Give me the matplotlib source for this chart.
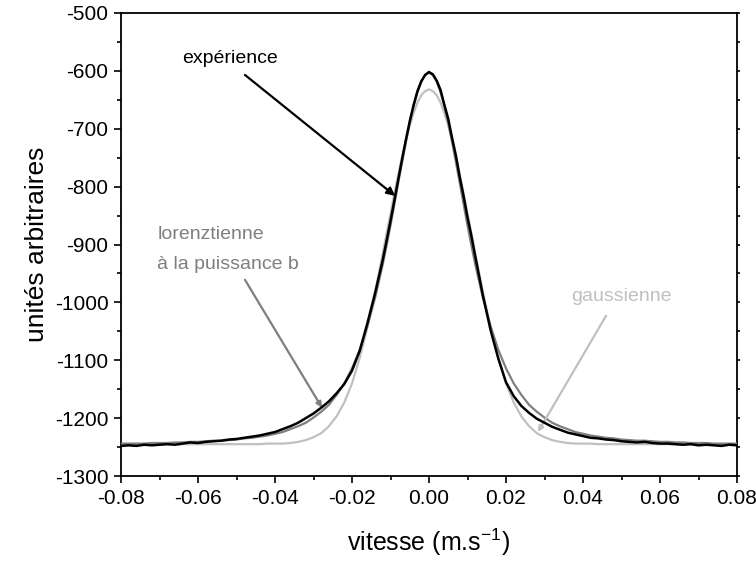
import numpy as np
import matplotlib
matplotlib.use("Agg")
import matplotlib.pyplot as plt
from matplotlib.ticker import MultipleLocator

plt.rcParams['font.family'] = ['Liberation Sans', 'DejaVu Sans']
plt.rcParams['mathtext.default'] = 'regular'
plt.rcParams['axes.unicode_minus'] = False

# velocity grid (m/s): step 0.002 in the wings, 0.001 around the peak
vitesse = np.concatenate([
    np.linspace(-0.080, -0.012, 35),
    np.linspace(-0.011, 0.011, 23),
    np.linspace(0.012, 0.080, 35),
])

# measured profile (black, noisy)
experience = [
    -1248, -1247, -1248, -1246, -1247, -1246, -1245, -1246, -1244, -1242,
    -1243, -1241, -1240, -1239, -1237, -1236, -1234, -1232, -1230, -1227,
    -1224, -1219, -1214, -1208, -1200, -1192, -1182, -1171, -1157, -1141,
    -1118, -1084, -1036, -984, -926,
    -893, -859, -824, -788, -753, -719, -687, -659, -635, -618, -607,
    -602,
    -606, -617, -633, -659, -683, -716, -747, -784, -817, -853, -885,
    -920, -988, -1048, -1097, -1138,
    -1162, -1179, -1191, -1201, -1208, -1215, -1220, -1225, -1228, -1231,
    -1234, -1235, -1237, -1238, -1240, -1241, -1242, -1241, -1243, -1244,
    -1244, -1245, -1246, -1245, -1247, -1246, -1247, -1248, -1246, -1247,
]

# fit: lorentzian to the power b (dark gray)
lorentz_b = [
    -1244, -1244, -1244, -1244, -1243, -1243, -1243, -1242, -1242, -1241,
    -1241, -1240, -1239, -1239, -1238, -1237, -1235, -1234, -1232, -1230,
    -1227, -1224, -1219, -1214, -1208, -1199, -1189, -1177, -1160, -1140,
    -1114, -1082, -1041, -992, -934,
    -901, -867, -831, -794, -758, -723, -690, -661, -637, -618, -607,
    -603,
    -607, -618, -637, -661, -690, -723, -758, -794, -831, -867, -901,
    -934, -992, -1041, -1082, -1114,
    -1140, -1160, -1177, -1189, -1199, -1208, -1214, -1219, -1224, -1227,
    -1230, -1232, -1234, -1235, -1237, -1238, -1239, -1239, -1240, -1241,
    -1241, -1242, -1242, -1243, -1243, -1243, -1244, -1244, -1244, -1244,
]

# fit: gaussian (light gray)
gaussienne = [
    -1245, -1245, -1245, -1245, -1245, -1245, -1245, -1245, -1245, -1245,
    -1245, -1245, -1245, -1245, -1245, -1245, -1245, -1245, -1245, -1244,
    -1244, -1244, -1243, -1241, -1238, -1233, -1226, -1214, -1197, -1173,
    -1140, -1096, -1043, -982, -915,
    -880, -847, -812, -780, -748, -720, -694, -673, -655, -642, -635,
    -632,
    -635, -642, -655, -673, -694, -720, -748, -780, -812, -847, -880,
    -915, -982, -1043, -1096, -1140,
    -1173, -1197, -1214, -1226, -1233, -1238, -1241, -1243, -1244, -1244,
    -1244, -1245, -1245, -1245, -1245, -1245, -1245, -1245, -1245, -1245,
    -1245, -1245, -1245, -1245, -1245, -1245, -1245, -1245, -1245, -1245,
]

BLACK = "#000000"
DARK_GRAY = "#7f7f7f"
LIGHT_GRAY = "#c0c0c0"

fig = plt.figure(figsize=(7.56, 5.64), dpi=100)
ax = fig.add_axes([121 / 756, 1 - 476 / 564, 616 / 756, 463 / 564])

ax.plot(vitesse, gaussienne, color=LIGHT_GRAY, lw=1.6, zorder=2)
ax.plot(vitesse, lorentz_b, color=DARK_GRAY, lw=1.6, zorder=3)
ax.plot(vitesse, experience, color=BLACK, lw=1.8, zorder=4)

ax.set_xlim(-0.08, 0.08)
ax.set_ylim(-1300, -500)
ax.xaxis.set_major_locator(MultipleLocator(0.02))
ax.xaxis.set_minor_locator(MultipleLocator(0.01))
ax.yaxis.set_major_locator(MultipleLocator(100))
ax.yaxis.set_minor_locator(MultipleLocator(50))
ax.xaxis.set_major_formatter(
    plt.FuncFormatter(lambda v, p: f"{v:.2f}".replace("-0.00", "0.00")))

ax.tick_params(which="major", direction="out", length=5, width=1.2,
               labelsize=15, pad=4)
ax.tick_params(which="minor", direction="out", length=3, width=1.2)
ax.tick_params(axis="y", which="both", right=True)
for t in ax.yaxis.get_ticklines(minor=False)[1::2]:
    t.set_markersize(2)
for t in ax.yaxis.get_ticklines(minor=True)[1::2]:
    t.set_markersize(2)
for spine in ax.spines.values():
    spine.set_linewidth(1.3)

ax.set_xlabel(r"vitesse (m.s$^{-1}$)", fontsize=18, labelpad=14)
ax.set_ylabel("unités arbitraires", fontsize=19, labelpad=4)

# annotations
ax.annotate("", xy=(-0.0088, -816), xytext=(-0.0478, -607),
            arrowprops=dict(arrowstyle="-|>", color=BLACK, lw=1.6,
                            mutation_scale=12, shrinkA=0, shrinkB=0))
ax.text(-0.0517, -578, "expérience", fontsize=14, color=BLACK,
        ha="center", va="center")

ax.annotate("", xy=(-0.0278, -1182), xytext=(-0.0478, -961),
            arrowprops=dict(arrowstyle="-|>", color=DARK_GRAY, lw=1.6,
                            mutation_scale=8, shrinkA=0, shrinkB=0))
ax.text(-0.0706, -883, "lorenztienne", fontsize=14, color=DARK_GRAY,
        ha="left", va="center")
ax.text(-0.0706, -935, "à la puissance b", fontsize=14, color=DARK_GRAY,
        ha="left", va="center")

ax.annotate("", xy=(0.0283, -1224), xytext=(0.0460, -1023),
            arrowprops=dict(arrowstyle="-|>", color=LIGHT_GRAY, lw=1.6,
                            mutation_scale=8, shrinkA=0, shrinkB=0))
ax.text(0.0369, -989, "gaussienne", fontsize=14, color=LIGHT_GRAY,
        ha="left", va="center")

fig.savefig("out.png", dpi=100)
